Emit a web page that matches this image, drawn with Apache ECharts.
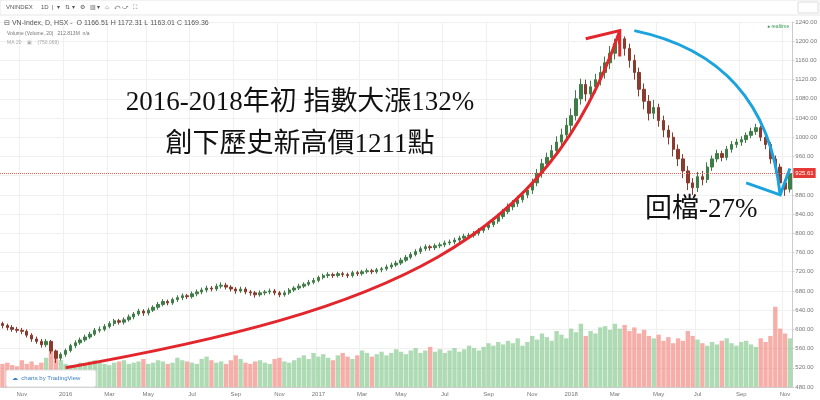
<!DOCTYPE html>
<html>
<head>
<meta charset="utf-8">
<script src="https://cdn.jsdelivr.net/npm/echarts@6/dist/echarts.min.js"></script>
<style>html,body{margin:0;padding:0;background:#fff}#main{width:820px;height:400px}</style>
</head>
<body>
<div id="main"></div>
<script>
// weekly VN-Index, Oct 2015 - Nov 2018
var startDate = '2015-10-05'
var firstOpen = 612
var closes = [608,604,600,598,596,588,580,575,568,575,555,540,548,556,566,572,578,584,590,598,
  600,606,612,618,615,620,626,632,638,634,640,646,652,658,655,662,666,670,668,674,
  678,682,686,684,690,692,688,684,680,684,678,676,672,676,678,680,676,672,676,682,
  686,690,694,698,702,708,712,714,712,716,714,712,718,716,720,722,720,724,726,730,
  734,738,744,750,756,762,768,772,770,774,776,780,782,786,790,794,796,800,806,812,
  818,825,835,845,855,862,870,880,890,905,925,945,958,972,990,1005,1025,1045,1080,1110,
  1090,1105,1120,1135,1155,1175,1195,1205,1185,1160,1135,1100,1075,1050,1062,1035,1015,1000,975,955,
  930,905,895,918,912,938,955,966,958,975,985,990,995,1004,1012,1020,1000,985,955,938,
  905,892,925]
var lows = [602,598,595,593,590,583,574,570,562,563,549,530,535,543,552,561,568,574,580,586,
  593,596,602,607,610,610,616,621,628,628,629,636,641,648,650,651,657,661,663,664,
  669,673,677,679,680,685,683,679,674,676,673,670,666,668,671,673,671,667,668,672,
  678,682,686,690,694,698,704,707,707,708,709,707,708,711,712,716,715,716,719,722,
  726,730,734,740,746,752,757,763,764,765,769,771,775,777,781,785,789,791,795,801,
  807,813,820,830,840,848,855,864,873,882,898,916,936,948,962,978,995,1012,1035,1068,
  1075,1078,1092,1108,1122,1142,1162,1180,1170,1145,1120,1085,1058,1035,1038,1022,1000,985,960,940,
  915,890,880,886,900,905,930,948,950,952,968,978,982,988,998,1005,992,975,945,925,
  890,878,885]
var highs = [616,612,609,605,603,600,592,585,580,580,578,558,552,560,570,577,583,589,595,603,
  606,611,617,622,622,625,631,636,643,642,645,650,657,663,662,666,671,675,674,679,
  683,687,691,690,695,698,697,692,688,689,688,682,680,681,682,685,684,680,681,686,
  690,695,698,703,707,712,716,719,718,720,720,718,722,722,724,727,726,728,730,735,
  739,743,749,755,761,767,773,777,776,779,781,785,787,791,795,799,801,805,811,817,
  824,831,841,851,862,869,878,888,898,914,934,955,968,984,1002,1018,1040,1060,1098,1122,
  1120,1118,1132,1148,1168,1190,1205,1211,1210,1195,1172,1145,1112,1088,1078,1070,1045,1025,1010,985,
  965,940,915,928,930,948,962,974,972,982,992,997,1002,1010,1020,1028,1024,1006,990,962,
  945,912,930]
var volumes = [95,100,90,85,110,95,105,90,100,120,150,130,110,
  95,90,85,100,95,105,110,100,95,90,100,105,110,95,100,105,115,95,
  100,110,105,95,100,120,110,105,100,95,115,125,110,100,105,95,110,130,115,100,95,105,110,100,95,115,120,105,100,110,
  120,130,115,140,125,135,120,110,130,140,125,115,130,150,140,125,135,145,130,140,155,145,135,150,160,140,150,165,145,155,140,150,160,145,155,170,160,150,165,180,
  170,185,175,190,180,200,170,185,210,195,220,205,190,230,215,200,240,225,260,210,230,220,245,250,235,260,240,255,230,245,
  220,235,210,200,215,190,205,180,200,190,230,210,195,180,170,185,175,190,200,180,170,185,190,175,165,200,185,210,330,240,220,200]
var lastPrice = 925.61
var monthNames = ['Jan','Feb','Mar','Apr','May','Jun','Jul','Aug','Sep','Oct','Nov','Dec']

var dates = []
var d0 = new Date(startDate + 'T00:00:00Z')
for (var i = 0; i < closes.length; i++) {
  dates.push(new Date(d0.getTime() + i * 7 * 86400000))
}
var cats = dates.map(function (d) { return d.toISOString().slice(0, 10) })
var candles = closes.map(function (c, i) {
  var o = i === 0 ? firstOpen : closes[i - 1]
  return [o, c, lows[i], highs[i]]
})
var volData = volumes.map(function (v, i) {
  var up = candles[i][1] >= candles[i][0]
  return { value: v, itemStyle: { color: up ? 'rgba(120,195,130,0.6)' : 'rgba(240,120,110,0.6)' } }
})
function showLabel(i) {
  if (i === 0) return false
  var m = dates[i].getUTCMonth()
  return m !== dates[i - 1].getUTCMonth() && m % 2 === 0
}

var myChart = echarts.init(document.getElementById('main'))
var option = {
  animation: false,
  grid: { left: 0, right: 22, top: 22, bottom: 13 },
  xAxis: {
    type: 'category',
    data: cats,
    boundaryGap: true,
    axisLine: { lineStyle: { color: '#ccc' } },
    axisTick: { show: false },
    axisLabel: {
      fontSize: 6, color: '#777', margin: 4,
      interval: function (i) { return showLabel(i) },
      formatter: function (v) {
        var d = new Date(v + 'T00:00:00Z')
        return d.getUTCMonth() === 0 ? String(d.getUTCFullYear()) : monthNames[d.getUTCMonth()]
      }
    },
    splitLine: { show: true, interval: function (i) { return showLabel(i) }, lineStyle: { color: '#f0f0f0' } }
  },
  yAxis: [{
    type: 'value', position: 'right', min: 480, max: 1240, interval: 40,
    axisLine: { show: true, lineStyle: { color: '#ccc' } },
    axisTick: { show: true, length: 2 },
    axisLabel: { fontSize: 6, color: '#777', margin: 3, formatter: function (v) { return v.toFixed(2) } },
    splitLine: { lineStyle: { color: '#f0f0f0' } }
  }, {
    type: 'value', min: 0, max: 1500, show: false
  }],
  series: [{
    type: 'bar', yAxisIndex: 1, data: volData, barWidth: '90%', z: 1
  }, {
    type: 'candlestick', data: candles, barWidth: '60%', z: 3,
    itemStyle: { color: '#3f7d46', color0: '#8a3b2e', borderColor: '#3f7d46', borderColor0: '#8a3b2e' },
    markLine: {
      symbol: 'none', silent: true,
      lineStyle: { color: '#e0665a', type: 'dotted', width: 1 },
      label: { position: 'end', formatter: '925.61', color: '#fff', backgroundColor: '#e53935', fontSize: 6, padding: [2, 2], distance: 1 },
      data: [{ yAxis: lastPrice }]
    }
  }]
}
myChart.setOption(option)

function px(i, p) { return myChart.convertToPixel({ gridIndex: 0 }, [i, p]) }
var rs = px(13, 520), re = px(127, 1222), rc1 = px(80, 640), rc2 = px(112, 780)
var ra1 = px(119.5, 1205), ra2 = px(126.5, 1168)
var bs = px(130, 1222), bc = px(157, 1165), be = px(160, 880)
var ba1 = px(152.5, 905), ba2 = px(161.8, 935)
var serif = '"Liberation Serif","Noto Sans CJK TC",serif'

myChart.setOption({
  graphic: [
    { type: 'rect', shape: { x: 0, y: 0, width: 820, height: 15 }, style: { fill: '#fff', stroke: '#e6e6e6' }, z: 10 },
    { type: 'text', x: 6, y: 4, style: { text: 'VNINDEX     1D  |  ▾   ⇅ ▾   ⚙   ▥ ▾   ⌂   ⤺ ⤻   ⛶', fontSize: 6, fill: '#555' }, z: 11 },
    { type: 'rect', shape: { x: 798, y: 2, width: 20, height: 11 }, style: { fill: '#fff', stroke: '#ddd' }, z: 11 },
    { type: 'text', x: 4, y: 20, style: { text: '⊟ VN-Index, D, HSX -  O 1166.51 H 1172.31 L 1163.01 C 1169.36', fontSize: 7, fill: '#555' }, z: 11 },
    { type: 'text', x: 7, y: 31, style: { text: 'Volume (Volume, 20)   212.813M  n/a', fontSize: 5, fill: '#777' }, z: 11 },
    { type: 'text', x: 7, y: 40, style: { text: 'MA 20    ▣    (750.069)', fontSize: 5, fill: '#aaa' }, z: 11 },
    { type: 'text', x: 767, y: 24, style: { text: '● realtime', fontSize: 5, fill: '#3a9a5a' }, z: 11 },
    { type: 'bezierCurve', shape: { x1: rs[0], y1: rs[1], cpx1: rc1[0], cpy1: rc1[1], cpx2: rc2[0], cpy2: rc2[1], x2: re[0], y2: re[1] },
      style: { stroke: '#e2262c', lineWidth: 3, fill: null }, z: 20 },
    { type: 'polyline', shape: { points: [ra1, re, ra2] }, style: { stroke: '#e2262c', lineWidth: 3, fill: null }, z: 20 },
    { type: 'bezierCurve', shape: { x1: bs[0], y1: bs[1], cpx1: bc[0], cpy1: bc[1], x2: be[0], y2: be[1] },
      style: { stroke: '#1aa3dc', lineWidth: 3, fill: null }, z: 20 },
    { type: 'polyline', shape: { points: [ba1, be, ba2] }, style: { stroke: '#1aa3dc', lineWidth: 3, fill: null }, z: 20 },
    { type: 'text', x: 300, y: 103, style: { text: '2016-2018年初 指數大漲132%', font: '27px ' + serif, fill: '#111', align: 'center', verticalAlign: 'middle' }, z: 20 },
    { type: 'text', x: 300, y: 145, style: { text: '創下歷史新高價1211點', font: '27px ' + serif, fill: '#111', align: 'center', verticalAlign: 'middle' }, z: 20 },
    { type: 'text', x: 645, y: 210, style: { text: '回檔-27%', font: '27px ' + serif, fill: '#111', verticalAlign: 'middle' }, z: 20 },
    { type: 'rect', shape: { x: 6, y: 370, width: 90, height: 17, r: 2 }, style: { fill: '#fff', stroke: '#ddd' }, z: 12 },
    { type: 'text', x: 12, y: 375, style: { text: '☁  charts by TradingView', fontSize: 6, fill: '#3d7fc4' }, z: 13 }
  ]
})
</script>
</body>
</html>
